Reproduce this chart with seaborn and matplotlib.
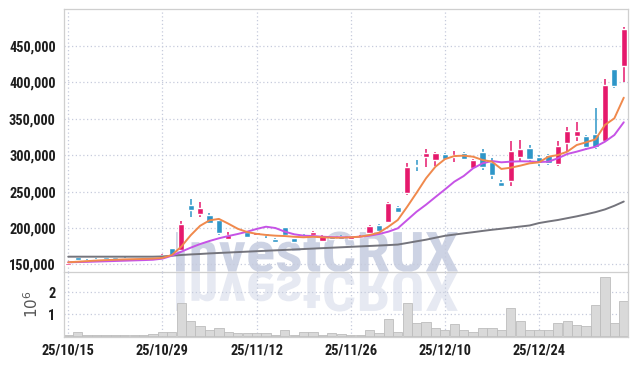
import numpy as np
import pandas as pd
import matplotlib
matplotlib.use('Agg')
import matplotlib.pyplot as plt
import seaborn as sns
from matplotlib import font_manager
from matplotlib.textpath import TextPath
from matplotlib.patches import PathPatch
from matplotlib.font_manager import FontProperties
from matplotlib.transforms import Affine2D
from matplotlib.ticker import FuncFormatter

# trading days (yy/mm/dd)
dates = ['25/10/15', '25/10/16', '25/10/17', '25/10/20', '25/10/21', '25/10/22', '25/10/23', '25/10/24', '25/10/27', '25/10/28',
         '25/10/29', '25/10/30', '25/10/31', '25/11/03', '25/11/04', '25/11/05', '25/11/06', '25/11/07', '25/11/10', '25/11/11',
         '25/11/12', '25/11/13', '25/11/14', '25/11/17', '25/11/18', '25/11/19', '25/11/20', '25/11/21', '25/11/24', '25/11/25',
         '25/11/26', '25/11/27', '25/11/28', '25/12/01', '25/12/02', '25/12/03', '25/12/04', '25/12/05', '25/12/08', '25/12/09',
         '25/12/10', '25/12/11', '25/12/12', '25/12/15', '25/12/16', '25/12/17', '25/12/18', '25/12/19', '25/12/22', '25/12/23',
         '25/12/24', '25/12/26', '25/12/29', '25/12/30', '26/01/02', '26/01/05', '26/01/06', '26/01/07', '26/01/08', '26/01/09']
tick_dates = ['25/10/15', '25/10/29', '25/11/12', '25/11/26', '25/12/10', '25/12/24']

open_ = [149800, 160500, 156500, 157500, 160000, 160000, 159500, 157500, 159000, 157000,
         158500, 172500, 170000, 232000, 219500, 218500, 211000, 184500, 190000, 194000,
         190000, 192500, 185500, 201000, 186000, 190800, 191000, 182600, 188600, 188600,
         184500, 187500, 192800, 204500, 208700, 229000, 248500, 287000, 297800, 293300,
         301500, 297000, 303300, 282700, 304200, 291000, 263100, 264500, 297800, 310100,
         298000, 300500, 287800, 317000, 326600, 326200, 328900, 319700, 417600, 422600]
high = [152500, 161000, 157000, 159000, 160500, 160500, 160000, 159000, 159500, 159000,
        165000, 173000, 209000, 240000, 235000, 221000, 212000, 194000, 191000, 195000,
        195000, 193500, 186500, 202000, 187000, 192000, 196500, 190000, 189500, 190500,
        189500, 191000, 203500, 205500, 236000, 230000, 289000, 293000, 308000, 304500,
        302500, 306000, 304000, 294000, 308500, 295500, 266000, 320000, 321000, 313500,
        300000, 302000, 320000, 338000, 345000, 327500, 364000, 404000, 418000, 476000]
low = [149500, 154500, 154500, 154000, 157000, 157500, 157500, 157000, 157000, 156500,
       158000, 161500, 169500, 214500, 214500, 205000, 190000, 184000, 187500, 186000,
       189000, 187000, 180500, 189500, 180500, 187500, 188500, 182000, 184000, 183500,
       184000, 186500, 192000, 196000, 207000, 221000, 245500, 277500, 284000, 285500,
       293000, 291000, 293500, 282000, 280000, 267000, 257000, 257500, 290000, 290000,
       285500, 286000, 285500, 305000, 320000, 307000, 308000, 318500, 391500, 399800]
close = [152000, 156000, 155000, 156500, 157500, 158000, 158000, 158500, 157500, 158500,
         163500, 162000, 205000, 224500, 227500, 207500, 192800, 190500, 188500, 188000,
         194000, 191000, 181500, 190500, 181500, 188500, 194000, 189000, 185000, 184500,
         188500, 189000, 202800, 196500, 234700, 222500, 284000, 284500, 303300, 303300,
         294600, 300100, 294200, 293300, 283300, 272700, 258000, 305600, 308300, 294200,
         288700, 289600, 312500, 333000, 333000, 311500, 310700, 396100, 394700, 472500]

ma5 = [153000, 153800, 154600, 155400, 156000, 156500, 157000, 157300, 157600, 158000,
       159000, 163000, 174400, 190000, 203000, 210500, 212500, 206000, 199000, 194500,
       192000, 190500, 189500, 189000, 188000, 187300, 188000, 187300, 186800, 186700,
       187300, 188100, 190400, 193600, 201800, 211000, 229200, 248400, 268200, 284100,
       294400, 298700, 299200, 297800, 293300, 291000, 281000, 282700, 285500, 288700,
       290100, 297800, 300100, 304700, 313800, 317500, 321600, 341300, 350400, 378700]
ma20 = [153000, 153300, 153600, 154000, 154400, 154800, 155200, 155600, 156000, 156500,
        158000, 162000, 167500, 173000, 178000, 182200, 185900, 189000, 191800, 195000,
        198700, 201800, 200000, 195000, 191400, 189500, 189000, 188100, 187500, 187300,
        187300, 188100, 189500, 191800, 195000, 199600, 211000, 222400, 232000, 242500,
        252800, 263500, 271300, 281900, 288700, 291900, 290100, 291000, 291500, 291300,
        290500, 291000, 295600, 301500, 304700, 308300, 311500, 318400, 327500, 345000]
ma60 = [160700, 160700, 160700, 160700, 160700, 160700, 160700, 160700, 160700, 160700,
        161000, 162000, 163000, 163800, 164400, 165200, 165800, 166400, 167000, 167600,
        168200, 168800, 169400, 170000, 170600, 171200, 171800, 172400, 173000, 173600,
        174200, 174800, 175400, 176000, 176600, 177300, 179500, 181800, 184000, 186700,
        189300, 191000, 192700, 194300, 196000, 197600, 199000, 200500, 202000, 203500,
        206800, 209000, 211000, 213500, 216000, 218800, 221800, 225500, 230500, 236300]

# volume in millions of shares
volume = [0.06, 0.17, 0.07, 0.07, 0.07, 0.07, 0.07, 0.07, 0.07, 0.08,
          0.18, 0.18, 1.49, 0.71, 0.44, 0.29, 0.35, 0.17, 0.12, 0.12,
          0.12, 0.12, 0.07, 0.26, 0.07, 0.17, 0.17, 0.07, 0.12, 0.09,
          0.07, 0.06, 0.26, 0.13, 0.80, 0.20, 1.53, 0.58, 0.63, 0.35,
          0.26, 0.53, 0.26, 0.21, 0.39, 0.39, 0.26, 1.30, 0.71, 0.30,
          0.30, 0.26, 0.62, 0.67, 0.49, 0.44, 1.44, 2.71, 0.62, 1.58]

df = pd.DataFrame({'date': dates, 'open': open_, 'high': high, 'low': low,
                   'close': close, 'ma5': ma5, 'ma20': ma20, 'ma60': ma60, 'volume': volume})
df['i'] = np.arange(len(df))

UP = '#e5196c'
DOWN = '#2e96c8'
GRID = '#c6cbdc'
SPINE = '#cfcfcf'


def pick_font(names):
    for n in names:
        try:
            font_manager.findfont(FontProperties(family=n), fallback_to_default=False)
            return n
        except Exception:
            pass
    return 'DejaVu Sans'


TICKFONT = pick_font(['Liberation Sans Narrow', 'DejaVu Sans Condensed', 'Roboto Condensed', 'Roboto'])

sns.set_style('white')
plt.rcParams['font.family'] = [TICKFONT, 'DejaVu Sans']

fig = plt.figure(figsize=(6.37, 3.66), dpi=100)
fig.patch.set_facecolor('white')
W, H = 637, 366
ax = fig.add_axes([64 / W, 1 - 272 / H, 564 / W, 263 / H])
axv = fig.add_axes([64 / W, 1 - 337 / H, 564 / W, 65 / H])
for a in (ax, axv):
    a.set_facecolor('none')
    a.set_axisbelow(True)
    a.grid(True, color=GRID, linestyle=(0, (1, 2)), linewidth=0.9)
    for s in a.spines.values():
        s.set_color(SPINE)
        s.set_linewidth(0.9)
axv.spines['top'].set_visible(False)

# watermark with reflection
fp = FontProperties(family=[TICKFONT, 'DejaVu Sans'], weight='bold')
tp = TextPath((0, 0), 'InvestCRUX', size=1, prop=fp)
ext = tp.get_extents()
sx = (282 / W) / ext.width
sy = (40 / H) / ext.y1
base = 1 - 271.5 / H
for sign, col in [(1, '#cdd3e4'), (-1, '#e6e9f2')]:
    tr = Affine2D().translate(-ext.x0, 0).scale(sx, sign * sy).translate(176 / W, base) + fig.transFigure
    fig.add_artist(PathPatch(tp, transform=tr, facecolor=col, edgecolor='none', zorder=-1))

# candles
for r in df.itertuples():
    col = UP if r.close >= r.open else DOWN
    ax.vlines(r.i, r.low, r.high, color=col, linewidth=1.1, zorder=3)
    body = max(abs(r.close - r.open), 1200)
    ax.bar(r.i, body, bottom=min(r.open, r.close), width=0.66, color=col, zorder=3)

# moving averages
sns.lineplot(data=df, x='i', y='ma60', ax=ax, color='#74747c', linewidth=1.4, zorder=4)
sns.lineplot(data=df, x='i', y='ma20', ax=ax, color='#c653e6', linewidth=1.4, zorder=4)
sns.lineplot(data=df, x='i', y='ma5', ax=ax, color='#f0894c', linewidth=1.4, zorder=4)

# volume
sns.barplot(data=df, x='i', y='volume', ax=axv, native_scale=True, color='#d9d9d9',
            edgecolor='#bdbdbd', linewidth=0.6, width=0.98, saturation=1, zorder=2)

ax.set_xlim(-0.45, len(df) - 0.55)
axv.set_xlim(-0.45, len(df) - 0.55)
ax.set_ylim(139700, 500300)
axv.set_ylim(-0.04, 2.92)

ticks = [dates.index(d) for d in tick_dates]
for a in (ax, axv):
    a.set_xticks(ticks)
ax.set_xticklabels([])
axv.set_xticklabels(tick_dates)
ax.set_yticks([150000, 200000, 250000, 300000, 350000, 400000, 450000])
ax.yaxis.set_major_formatter(FuncFormatter(lambda v, p: f'{v:,.0f}'))
axv.set_yticks([1, 2])
axv.set_yticklabels(['1', '2'])

for a in (ax, axv):
    a.tick_params(axis='y', length=0, pad=6, labelsize=12, labelcolor='#1e1e1e')
    a.tick_params(axis='x', length=0, pad=5, labelsize=12, labelcolor='#1e1e1e')
ax.set_xlabel('')
ax.set_ylabel('')
axv.set_xlabel('')

# size tick labels so "450,000" is ~47 px wide; dates a bit smaller
fig.canvas.draw()
rend = fig.canvas.get_renderer()
ylabs = ax.get_yticklabels() + axv.get_yticklabels()
xlabs = axv.get_xticklabels()
for t in ylabs + xlabs:
    t.set_fontweight('bold')
fig.canvas.draw()
wy = max(t.get_window_extent(rend).width for t in ax.get_yticklabels())
wx = max(t.get_window_extent(rend).width for t in xlabs)
ysize = min(13, 12 * 47 / wy)
xsize = min(ysize, 12 * 54 / wx)
for t in ylabs:
    t.set_fontsize(ysize)
for t in xlabs:
    t.set_fontsize(xsize)

axv.set_ylabel('$10^6$', fontsize=11, color='#555555', labelpad=5)

fig.savefig('out.png', dpi=100, facecolor='white')
